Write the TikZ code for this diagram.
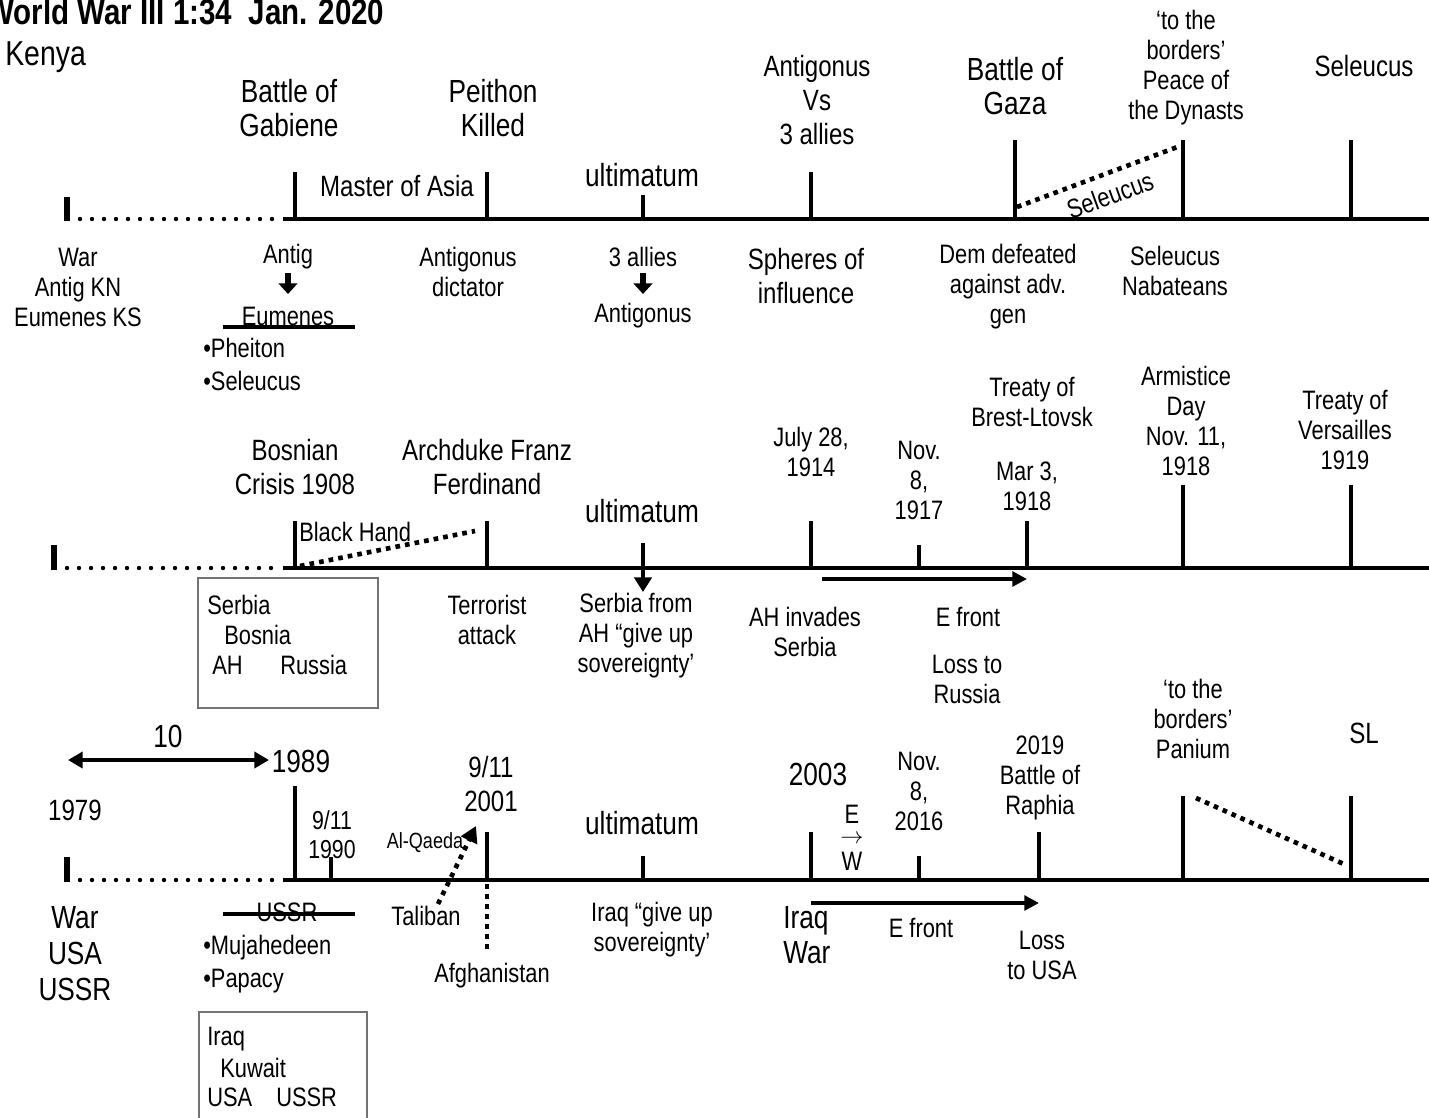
\documentclass[tikz,border=0pt]{standalone}
\usepackage{fontspec}
\setmainfont{Liberation Sans}[FakeStretch=0.82]
\usetikzlibrary{arrows.meta}
\begin{document}
\begin{tikzpicture}[x=0.75pt,y=-0.75pt,
  every node/.style={inner sep=0pt, align=center},
  big/.style={font=\fontsize{24}{26}\selectfont},
  mid/.style={font=\fontsize{22}{25}\selectfont},
  med/.style={font=\fontsize{20}{22.5}\selectfont},
  sml/.style={font=\fontsize{16.5}{18}\selectfont},
  s18/.style={font=\fontsize{19.5}{22}\selectfont},
  axisline/.style={line width=3pt},
  tickline/.style={line width=3pt},
  itick/.style={line width=3.8pt},
  rdots/.style={line width=3.3pt, line cap=round, dash pattern=on 0pt off 9pt},
  sdots/.style={line width=3.5pt, dash pattern=on 3.5pt off 3.8pt},
  barline/.style={line width=3pt},
  boxline/.style={draw=black!55, line width=1.1pt},
  fatarrow/.style={line width=3pt, -{Triangle[length=11pt,width=11pt]}},
  downarrow/.style={line width=4pt, -{Triangle[length=8pt,width=14pt]}},
]
\useasboundingbox (0,0) rectangle (1429,1118);

% ---------- header ----------
\node[anchor=base west, font=\fontsize{27}{30}\bfseries\selectfont] (title) at (-14,24) {World War III 1:34\ \ Jan. 2020};
\node[anchor=base west, font=\fontsize{26}{28}\selectfont] (kenya) at (5,65) {Kenya};

% ---------- timeline 1 ----------
\draw[itick] (67,197) -- (67,221);
\draw[rdots] (80,219) -- (283,219);
\draw[axisline] (283,219) -- (1429,219);
\draw[tickline] (295,219) -- (295,172);
\draw[tickline] (487,219) -- (487,172);
\draw[tickline] (643,219) -- (643,195);
\draw[tickline] (811,219) -- (811,172);
\draw[tickline] (1015,219) -- (1015,140);
\draw[tickline] (1183,219) -- (1183,140);
\draw[tickline] (1351,219) -- (1351,140);
\coordinate (s1a) at (1017,207);
\coordinate (s1b) at (1180,146);
\draw[sdots] (s1a) -- (s1b);
\node[med, rotate=20] (sel1) at (1110,195) {Seleucus};

\node[big] (gab) at (289,108) {Battle of\\Gabiene};
\node[big] (pei) at (493,108) {Peithon\\Killed};
\node[mid] (moa) at (397,186) {Master of Asia};
\node[big] (ult1) at (642,175) {ultimatum};
\node[mid, font=\fontsize{22}{25.5}\selectfont] (avs) at (817,100) {Antigonus\\Vs\\3 allies};
\node[big] (gaza) at (1015,86) {Battle of\\Gaza};
\node[med] (dyn) at (1186,68) {‘to the\\borders’\\Peace of\\the Dynasts};
\node[mid] (sel) at (1364,66) {Seleucus};

\node[med] (war1) at (78,287) {War\\Antig KN\\Eumenes KS};
\node[med] (antig) at (288,257) {Antig};
\node[med] (eum) at (288,316) {Eumenes};
\coordinate (ad1) at (288,273);
\coordinate (ad2) at (288,294);
\draw[downarrow] (ad1) -- (ad2);
\draw[barline] (223,327) -- (355,327);
\node[med, anchor=west] (phe) at (203,348) {•Pheiton};
\node[med, anchor=west] (seb) at (203,381) {•Seleucus};
\node[med] (dict) at (468,272) {Antigonus\\dictator};
\node[med] (all) at (643,257) {3 allies};
\coordinate (ad3) at (643,273);
\coordinate (ad4) at (643,294);
\draw[downarrow] (ad3) -- (ad4);
\node[med] (ant2) at (643,316) {Antigonus};
\node[mid] (sph) at (806,276) {Spheres of\\influence};
\node[med] (dem) at (1008,287) {Dem defeated\\against adv.\\gen};
\node[med] (nab) at (1175,271) {Seleucus\\Nabateans};

% ---------- timeline 2 ----------
\draw[itick] (54,545) -- (54,570);
\draw[rdots] (67,568) -- (275,568);
\draw[axisline] (283,568) -- (1429,568);
\draw[tickline] (295,568) -- (295,521);
\draw[tickline] (487,568) -- (487,521);
\draw[tickline] (811,568) -- (811,521);
\draw[tickline] (919,568) -- (919,545);
\draw[tickline] (1027,568) -- (1027,521);
\draw[tickline] (1183,568) -- (1183,485);
\draw[tickline] (1351,568) -- (1351,485);
\coordinate (u2a) at (643,543);
\coordinate (u2b) at (643,592);
\draw[line width=3pt, -{Triangle[length=11pt,width=13pt]}] (u2a) -- (u2b);
\coordinate (bh1) at (300,566);
\coordinate (bh2) at (475,531);
\draw[sdots] (bh1) -- (bh2);
\node[med, anchor=west] (bh) at (299,532) {Black Hand};
\coordinate (ef2a) at (822,579);
\coordinate (ef2b) at (1027,579);
\draw[fatarrow] (ef2a) -- (ef2b);

\node[mid] (bos) at (295,467) {Bosnian\\Crisis 1908};
\node[mid] (arch) at (487,467) {Archduke Franz\\Ferdinand};
\node[big] (ult2) at (642,511) {ultimatum};
\node[med] (jul) at (811,452) {July 28,\\1914};
\node[med] (nov1) at (919,480) {Nov.\\8,\\1917};
\node[med] (brest) at (1032,402) {Treaty of\\Brest-Ltovsk};
\node[med] (mar) at (1027,486) {Mar 3,\\1918};
\node[med] (arm) at (1186,421) {Armistice\\Day\\Nov. 11,\\1918};
\node[med] (ver) at (1345,430) {Treaty of\\Versailles\\1919};

\draw[boxline] (198,578) rectangle (378,708);
\node[med, anchor=west] (bx1a) at (207,605) {Serbia};
\node[med, anchor=west] (bx1b) at (224,635) {Bosnia};
\node[med, anchor=west] (bx1c) at (212,665) {AH};
\node[med, anchor=west] (bx1d) at (280,665) {Russia};
\node[med] (ter) at (487,620) {Terrorist\\attack};
\node[med] (sfa) at (636,636) {Serbia from\\AH “give up\\sovereignty’};
\node[med] (ahi) at (805,632) {AH invades\\Serbia};
\node[med] (ef2) at (968,617) {E front};
\node[med] (loss1) at (967,679) {Loss to\\Russia};

% ---------- timeline 3 ----------
\draw[itick] (67,857) -- (67,882);
\draw[rdots] (80,880) -- (283,880);
\draw[axisline] (283,880) -- (1429,880);
\draw[tickline] (295,880) -- (295,786);
\draw[tickline] (331,880) -- (331,857);
\draw[tickline] (487,880) -- (487,832);
\draw[tickline] (643,880) -- (643,856);
\draw[tickline] (811,880) -- (811,832);
\draw[tickline] (919,880) -- (919,856);
\draw[tickline] (1039,880) -- (1039,832);
\draw[tickline] (1183,880) -- (1183,796);
\draw[tickline] (1351,880) -- (1351,796);
\coordinate (d3a) at (487,884);
\coordinate (d3b) at (487,950);
\draw[line width=3pt, dash pattern=on 3.5pt off 4pt] (d3a) -- (d3b);
\coordinate (pa) at (1196,798);
\coordinate (pb) at (1346,865);
\draw[sdots] (pa) -- (pb);
\coordinate (tq1) at (438,904);
\coordinate (tq2) at (476,826);
\draw[line width=3.5pt, dash pattern=on 3.5pt off 4pt, -{Triangle[length=12pt,width=13pt]}] (tq1) -- (tq2);
\coordinate (ten1) at (68,760);
\coordinate (ten2) at (269,760);
\draw[line width=3pt, {Triangle[length=11pt,width=12pt]}-{Triangle[length=11pt,width=12pt]}] (ten1) -- (ten2);
\coordinate (ef3a) at (811,903);
\coordinate (ef3b) at (1039,903);
\draw[fatarrow] (ef3a) -- (ef3b);

\node[big] (ten) at (168,736) {10};
\node[big] (y1989) at (301,761) {1989};
\node[mid] (y1979) at (75,810) {1979};
\node[s18] (n1990) at (332,835) {9/11\\1990};
\node[mid] (n2001) at (491,784) {9/11\\2001};
\node[sml] (alq) at (425,843) {Al-Qaeda};
\node[med] (tal) at (426,916) {Taliban};
\node[med] (afg) at (492,976) {Afghanistan};
\node[big] (ult3) at (642,823) {ultimatum};
\node[med] (igu) at (652,930) {Iraq “give up\\sovereignty’};
\node[big] (y2003) at (818,774) {2003};
\node[med] (ee) at (852,814) {E};
\node[font=\fontsize{16}{18}\selectfont] (arr) at (852,839) {$\rightarrow$};
\node[med] (ww) at (852,861) {W};
\node[med] (nov2) at (919,791) {Nov.\\8,\\2016};
\node[med] (rap) at (1040,778) {2019\\Battle of\\Raphia};
\node[med] (pan) at (1193,719) {‘to the\\borders’\\Panium};
\node[mid] (sl) at (1364,733) {SL};

\node[big, font=\fontsize{24}{27}\selectfont] (war3) at (75,954) {War\\USA\\USSR};
\node[med] (ussr) at (287,912) {USSR};
\draw[barline] (223,914) -- (355,914);
\node[med, anchor=west] (muj) at (203,948) {•Mujahedeen};
\node[med, anchor=west] (pap) at (203,981) {•Papacy};
\draw[boxline] (199,1012) rectangle (367,1125);
\node[med, anchor=west] (bx2a) at (207,1039) {Iraq};
\node[med, anchor=west] (bx2b) at (220,1068) {Kuwait};
\node[med, anchor=west] (bx2c) at (207,1097) {USA};
\node[med, anchor=west] (bx2d) at (276,1097) {USSR};
\node[big, align=left, anchor=west] (iw) at (783,935) {Iraq\\War};
\node[med] (ef3) at (921,928) {E front};
\node[med] (loss3) at (1042,955) {Loss\\to USA};
\end{tikzpicture}
\end{document}
